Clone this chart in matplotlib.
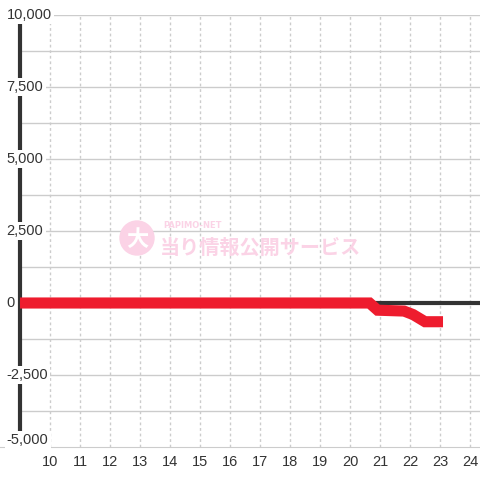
import matplotlib.pyplot as plt
from matplotlib.patches import Circle

# data
x_pts = [9, 20.65, 20.92, 21.8, 22.1, 22.5, 23.1]
y_pts = [0, 0, -250, -280, -400, -650, -650]
x_ticks = list(range(10, 25))
y_labels = [10000, 7500, 5000, 2500, 0, -2500, -5000]

textcolour = "#333333"
gridcolour = "#cccccc"

fig = plt.figure(figsize=(4.8, 4.8), dpi=100)
ax = fig.add_axes([0, 33 / 480, 1, 432 / 480])
ax.set_xlim(8.333, 24.333)
ax.set_ylim(-5000, 10000)

for s in ['top', 'right', 'left']:
    ax.spines[s].set_visible(False)
ax.spines['bottom'].set_color(gridcolour)

# grid
for yv in range(-3750, 10001, 1250):
    ax.hlines(yv, 9, 24.333, color=gridcolour, lw=1, zorder=1)
for xv in x_ticks:
    ax.axvline(xv, color=gridcolour, lw=1, ls=(0, (2, 2)), zorder=1)

ax.set_xticks(x_ticks)
ax.set_yticks([])
ax.tick_params(axis='x', length=0, pad=6, labelsize=10.5, colors=textcolour)
for lbl in ax.get_xticklabels():
    lbl.set_fontfamily('Liberation Sans')

# watermark
fig.patches.append(Circle((137 / 480, 1 - 238 / 480), 17 / 480, transform=fig.transFigure,
                          color='#fbd3e6', zorder=2))
fig.text(137 / 480, 1 - 239 / 480, '大', color='white', fontsize=16, fontweight='bold',
         ha='center', va='center', family='Noto Sans CJK JP', zorder=3)
fig.text(163 / 480, 1 - 226 / 480, 'PAPIMO-NET', color='#fbd3e6', fontsize=6,
         ha='left', va='center', family='DejaVu Sans', fontweight='bold')
fig.text(160 / 480, 1 - 247 / 480, '当り情報公開サービス', color='#fbd3e6', fontsize=14.5,
         fontweight='bold', ha='left', va='center', family='Noto Sans CJK JP')

# axis lines
ax.hlines(0, 9, 24.333, color='#333333', lw=3, zorder=3)
ax.plot([9, 9], [-4650, 9700], color='#333333', lw=3, solid_capstyle='butt', zorder=3)

# series
ax.plot(x_pts, y_pts, color='#ee1c2e', lw=8, solid_capstyle='butt',
        solid_joinstyle='miter', zorder=4)

# y labels
for yv in y_labels:
    va = 'bottom' if yv == -5000 else 'center'
    ax.text(0.014, yv, f'{yv:,}', transform=ax.get_yaxis_transform(), ha='left', va=va,
            fontsize=10.5, color=textcolour, family='Liberation Sans', zorder=10,
            bbox=dict(facecolor='white', edgecolor='none', pad=1.5))

fig.savefig('out.png', dpi=100)
